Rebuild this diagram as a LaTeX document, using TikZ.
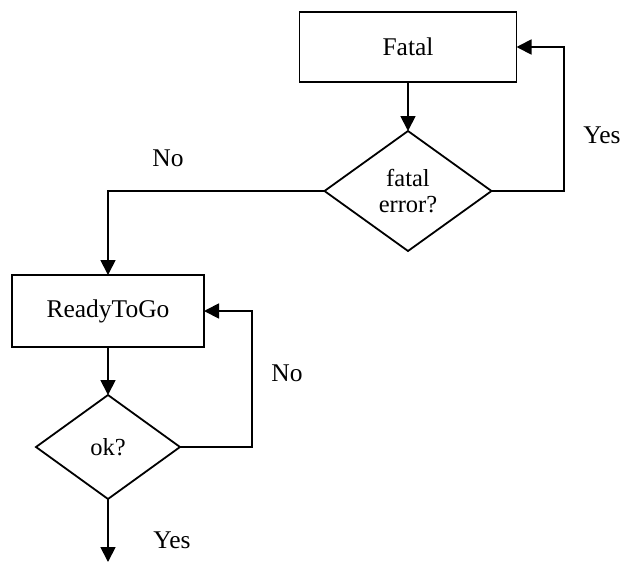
\documentclass[tikz,border=0pt]{standalone}
\usepackage{fontspec}
\setmainfont{Liberation Serif}
\usetikzlibrary{shapes.geometric,arrows.meta}
\begin{document}
\begin{tikzpicture}[x=1pt,y=-1pt,
  every node/.style={outer sep=0pt},
  flow/.style={line width=1.8pt, -{Triangle[length=15pt,width=15pt]}},
  procbox/.style={draw, line width=1.8pt, inner sep=0pt, font=\fontsize{25.5}{27}\selectfont},
  decision/.style={draw, diamond, line width=1.8pt, inner sep=0pt, font=\fontsize{24.5}{26}\selectfont, align=center},
  lbl/.style={font=\fontsize{25.5}{27}\selectfont}]
  \useasboundingbox (0,0) rectangle (626,563);
  % process boxes
  \node[procbox, minimum width=217pt, minimum height=70pt] (fatal) at (408,47) {Fatal};
  \node[procbox, minimum width=192pt, minimum height=72pt] (ready) at (108,311) {ReadyToGo};
  % decisions
  \node[decision, minimum width=167pt, minimum height=120pt, aspect=1.39] (ferr) at (408,191) {fatal\\error?};
  \node[decision, minimum width=144pt, minimum height=104pt, aspect=1.38] (ok) at (108,447) {ok?};
  \coordinate (out) at (108,562);
  % connectors
  \draw[flow] (fatal.south) -- (ferr.north);
  \draw[flow] (ferr.east) -- (564,191) |- (fatal.east);
  \draw[flow] (ferr.west) -| (ready.north);
  \draw[flow] (ready.south) -- (ok.north);
  \draw[flow] (ok.east) -- (252,447) |- (ready.east);
  \draw[flow] (ok.south) -- (out);
  % branch labels
  \node[lbl] (l1) at (168,158) {No};
  \node[lbl] (l2) at (602,135) {Yes};
  \node[lbl] (l3) at (287,373) {No};
  \node[lbl] (l4) at (172,540) {Yes};
\end{tikzpicture}
\end{document}
